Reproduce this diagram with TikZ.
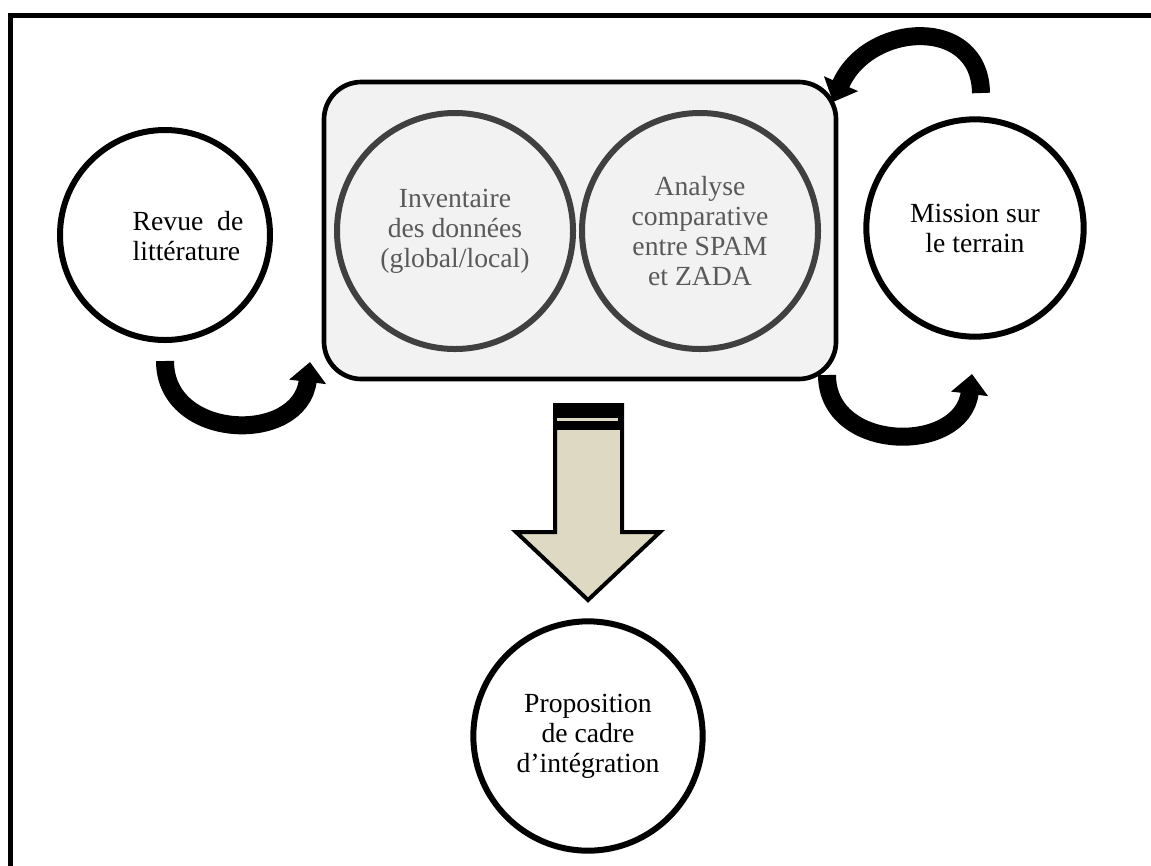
\documentclass[tikz,border=0pt]{standalone}
\usepackage{fontspec}
\setmainfont{Liberation Serif}
\usetikzlibrary{arrows.meta}
\definecolor{panel}{HTML}{F2F2F2}
\definecolor{ringgray}{HTML}{404040}
\definecolor{txtgray}{HTML}{595959}
\definecolor{khaki}{HTML}{DDD9C3}
\begin{document}
\begin{tikzpicture}[x=0.75pt,y=-0.75pt,
  every node/.style={font=\fontsize{20.75}{22.5}\selectfont, align=center, inner sep=0pt},
  stage/.style={circle, draw=black, line width=4.5pt, fill=white},
  inner stage/.style={circle, draw=ringgray, line width=4.5pt, fill=panel,
    minimum size=177pt, text=txtgray},
  panelbox/.style={draw=black, line width=3.5pt, fill=panel, rounded corners=28pt,
    minimum width=384pt, minimum height=222.75pt},
  loopy/.style={line width=13.5pt, -{Triangle[length=15pt, width=27pt]}}]
\useasboundingbox (0,0) rectangle (1151,865);

% outer frame (open at right and bottom)
\draw[line width=3.75pt, line join=miter] (10.5,870) -- (10.5,15.5) -- (1160,15.5);

% central panel with the two analysis steps
\node[panelbox] (panel) at (580,230.5) {};
\node[inner stage] (inv) at (455,231) {Inventaire\\des données\\(global/local)};
\node[inner stage] (ana) at (700,231) {Analyse\\comparative\\entre SPAM\\et ZADA};

% side and final steps
\node[stage, minimum size=157.5pt] (revue) at (165,235) {};
\node (revuetxt) at (188,236) [align=left] {Revue \ de\\littérature};
\node[stage, minimum size=163pt] (mission) at (975,228) {Mission sur\\le terrain};
\node[stage, minimum size=172pt] (prop) at (588,736) {Proposition\\de cadre\\d'intégration};

% curved loops between the steps
\coordinate (la) at (165,361);
\coordinate (lb) at (310,362);
\coordinate (ra) at (827,375);
\coordinate (rb) at (972,374);
\coordinate (ta) at (981,93);
\coordinate (tb) at (833,102);
\draw[loopy] (la) .. controls +(0,80) and +(-10,83) .. (lb);
\draw[loopy] (ra) .. controls +(0,78) and +(-10,81) .. (rb);
\draw[loopy] (ta) .. controls +(-1,-78) and +(35,-80) .. (tb);

% block arrow down to the proposal
\draw[line width=3pt, fill=khaki, line join=miter]
  (555,405) -- (622,405) -- (622,532) -- (660,532) -- (588,600)
  -- (516,532) -- (555,532) -- cycle;
\fill (553,403) rectangle (624,430);
\fill[khaki] (557,417.5) rectangle (618,421);
\end{tikzpicture}
\end{document}
